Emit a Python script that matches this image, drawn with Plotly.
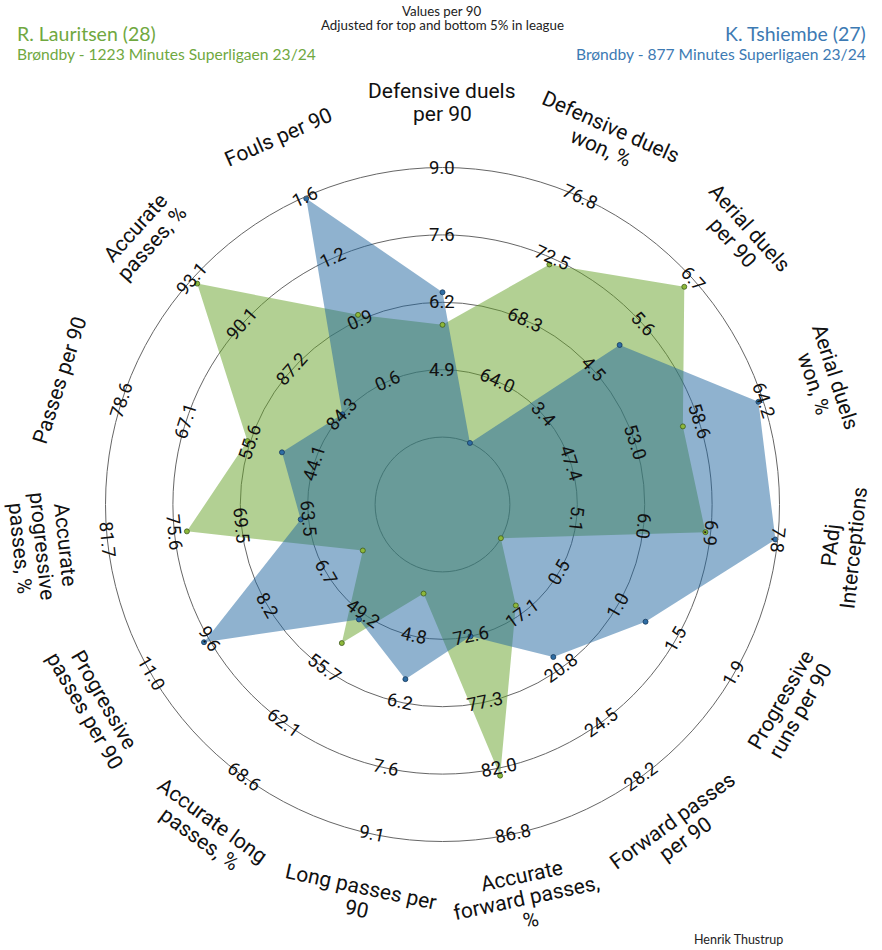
import numpy as np
import plotly.graph_objects as go

# ---------------- data ----------------
params = [
    "Defensive duels\nper 90",
    "Defensive duels\nwon, %",
    "Aerial duels\nper 90",
    "Aerial duels\nwon, %",
    "PAdj\nInterceptions",
    "Progressive\nruns per 90",
    "Forward passes\nper 90",
    "Accurate\nforward passes,\n%",
    "Long passes per\n90",
    "Accurate long\npasses, %",
    "Progressive\npasses per 90",
    "Accurate\nprogressive\npasses, %",
    "Passes per 90",
    "Accurate\npasses, %",
    "Fouls per 90",
]

ring_labels = [
    [4.9, 6.2, 7.6, 9.0],
    [64.0, 68.3, 72.5, 76.8],
    [3.4, 4.5, 5.6, 6.7],
    [47.4, 53.0, 58.6, 64.2],
    [5.1, 6.0, 6.9, 7.8],
    [0.5, 1.0, 1.5, 1.9],
    [17.1, 20.8, 24.5, 28.2],
    [72.6, 77.3, 82.0, 86.8],
    [4.8, 6.2, 7.6, 9.1],
    [49.2, 55.7, 62.1, 68.6],
    [6.7, 8.2, 9.6, 11.0],
    [63.5, 69.5, 75.6, 81.7],
    [44.1, 55.6, 67.1, 78.6],
    [84.3, 87.2, 90.1, 93.1],
    [0.6, 0.9, 1.2, 1.6],
]

lauritsen = [5.81, 72.1, 6.51, 57.2, 6.83, 0.0, 16.55, 82.6, 3.87, 52.7, 5.79, 74.5, 56.1, 92.8, 0.96]
tshiembe = [6.47, 59.0, 5.09, 63.8, 7.77, 1.19, 20.05, 72.6, 5.73, 49.9, 9.69, 64.2, 49.9, 84.3, 1.59]

player1 = "R. Lauritsen (28)"
player1_sub = "Brøndby - 1223 Minutes Superligaen 23/24"
player2 = "K. Tshiembe (27)"
player2_sub = "Brøndby - 877 Minutes Superligaen 23/24"
header1 = "Values per 90"
header2 = "Adjusted for top and bottom 5% in league"
credit = "Henrik Thustrup"

# ---------------- style / layout ----------------
W, H = 882, 950
CX, CY = 442.5, 504.5        # radar centre in pixels
UNIT = 67.4                  # pixels per radial unit
N_RINGS = 4
R_MAX = 1 + N_RINGS          # centre circle radius 1, rings of width 1
R_LABEL = 402.0
LINE_H = 22.5

GREEN_FILL = "rgba(101,161,39,0.5)"
BLUE_FILL = "rgba(31,101,159,0.5)"
GREEN_TXT = "#70A83F"
BLUE_TXT = "#3D7AB3"
GRID = "#666666"

N = len(params)
theta = [i * 360.0 / N for i in range(N)]


def to_r(v, labels):
    step = (labels[-1] - labels[0]) / (N_RINGS - 1)
    lo, hi = labels[0] - step, labels[-1]
    f = np.clip((v - lo) / (hi - lo), 0, 1)
    return 1 + N_RINGS * f


r1 = [to_r(v, ring_labels[i]) for i, v in enumerate(lauritsen)]
r2 = [to_r(v, ring_labels[i]) for i, v in enumerate(tshiembe)]

fig = go.Figure()
fig.add_trace(go.Scatterpolar(r=r1, theta=theta, mode="none", fill="toself",
                              fillcolor=GREEN_FILL, hoverinfo="skip", showlegend=False))
fig.add_trace(go.Scatterpolar(r=r2, theta=theta, mode="none", fill="toself",
                              fillcolor=BLUE_FILL, hoverinfo="skip", showlegend=False))
fig.add_trace(go.Scatterpolar(r=r1, theta=theta, mode="markers",
                              marker=dict(size=5, color="#8DB83A", line=dict(color="#3F5A1E", width=0.8)),
                              showlegend=False))
fig.add_trace(go.Scatterpolar(r=r2, theta=theta, mode="markers",
                              marker=dict(size=5, color="#2E6DA4", line=dict(color="#183A5C", width=0.8)),
                              showlegend=False))

half = R_MAX * UNIT
fig.update_layout(
    width=W, height=H,
    margin=dict(l=0, r=0, t=0, b=0, pad=0),
    paper_bgcolor="white",
    showlegend=False,
    polar=dict(
        domain=dict(x=[(CX - half) / W, (CX + half) / W],
                    y=[(H - CY - half) / H, (H - CY + half) / H]),
        bgcolor="rgba(0,0,0,0)",
        radialaxis=dict(range=[0, R_MAX], tickvals=list(range(1, R_MAX)),
                        showticklabels=False, ticks="", showline=False,
                        showgrid=True, gridcolor=GRID, gridwidth=1),
        angularaxis=dict(rotation=90, direction="clockwise", showticklabels=False,
                         ticks="", showgrid=False, showline=True,
                         linecolor=GRID, linewidth=1),
    ),
)


def px_to_paper(x, y):
    return x / W, 1 - y / H


def norm(a):
    return (a + 180) % 360 - 180


annotations = []
for i in range(N):
    phi = norm(90 - theta[i])
    c, s = np.cos(np.radians(phi)), np.sin(np.radians(phi))
    # ring labels
    rot_ring = phi - 90 if phi > -10 else phi + 90
    for k, lab in enumerate(ring_labels[i]):
        rr = (k + 2) * UNIT
        x, y = px_to_paper(CX + rr * c, CY - rr * s)
        annotations.append(dict(x=x, y=y, xref="paper", yref="paper", text=f"{lab:.1f}",
                                showarrow=False, textangle=-rot_ring,
                                xanchor="center", yanchor="middle",
                                font=dict(family="Roboto", size=18.5, color="#111111")))
    # parameter labels
    rot_p = phi - 90 if phi >= 0 else phi + 90
    a = np.radians(-rot_p)
    down = (-np.sin(a), np.cos(a))
    lines = params[i].split("\n")
    n = len(lines)
    bx, by = CX + R_LABEL * c, CY - R_LABEL * s
    for j, ln in enumerate(lines):
        off = (j - (n - 1) / 2) * LINE_H
        x, y = px_to_paper(bx + off * down[0], by + off * down[1])
        annotations.append(dict(x=x, y=y, xref="paper", yref="paper", text=ln,
                                showarrow=False, textangle=-rot_p,
                                xanchor="center", yanchor="middle",
                                font=dict(family="Roboto", size=21, color="#111111")))


def txt(x, y, t, size, color, anchor="center", family="Lato"):
    xp, yp = px_to_paper(x, y)
    return dict(x=xp, y=yp, xref="paper", yref="paper", text=t, showarrow=False,
                xanchor=anchor, yanchor="middle",
                font=dict(family=family, size=size, color=color))


annotations += [
    txt(15, 33.5, player1, 19.5, GREEN_TXT, "left"),
    txt(15, 54, player1_sub, 15.6, GREEN_TXT, "left"),
    txt(868, 33.5, player2, 19.5, BLUE_TXT, "right"),
    txt(868, 54, player2_sub, 15.6, BLUE_TXT, "right"),
    txt(442.5, 11, header1, 13.3, "#222222"),
    txt(442.5, 25.5, header2, 13.3, "#222222"),
    txt(738, 939.5, credit, 12.5, "#222222"),
]
fig.update_layout(annotations=annotations)

fig.write_html("out.html")
